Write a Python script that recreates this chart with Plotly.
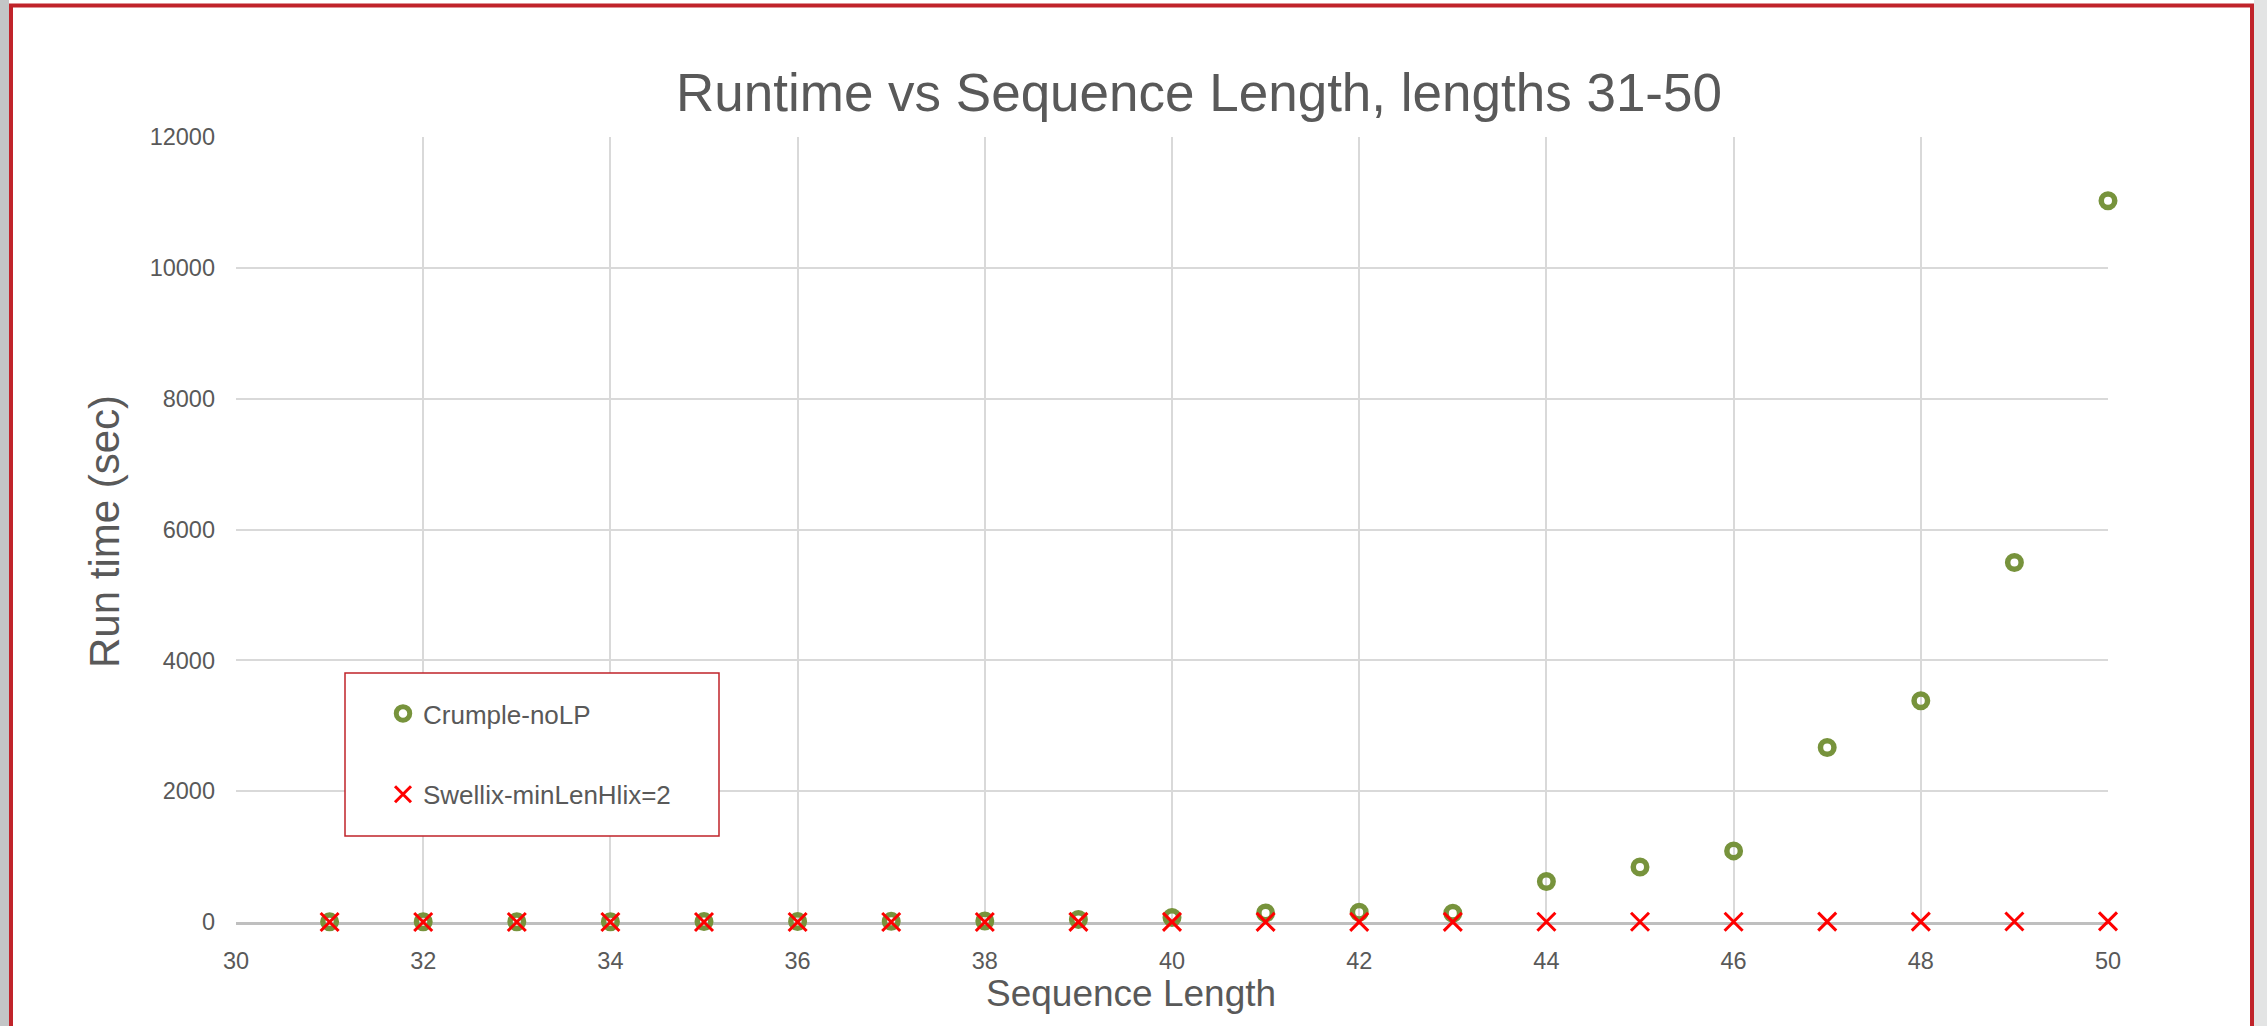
import plotly.graph_objects as go

# ---------------- data ----------------
seq_length = [31, 32, 33, 34, 35, 36, 37, 38, 39, 40,
              41, 42, 43, 44, 45, 46, 47, 48, 49, 50]
crumple_nolp = [2, 3, 4, 5, 6, 8, 10, 15, 40, 70,
                138, 148, 135, 618, 842, 1087, 2667, 3381, 5495, 11025]
swellix_minlen2 = [0.2, 0.3, 0.3, 0.4, 0.5, 0.6, 0.7, 0.9, 1.1, 1.3,
                   1.6, 2.0, 2.4, 2.9, 3.5, 4.2, 5.1, 6.1, 7.4, 8.9]
x_ticks = [30, 32, 34, 36, 38, 40, 42, 44, 46, 48, 50]
y_ticks = [0, 2000, 4000, 6000, 8000, 10000, 12000]

title_text = "Runtime vs Sequence Length, lengths 31-50"
x_title = "Sequence Length"
y_title = "Run time (sec)"
name_crumple = "Crumple-noLP"
name_swellix = "Swellix-minLenHlix=2"

# ---------------- layout geometry ----------------
W, H = 2267, 1026
L, R, T, B = 236, 2108, 137, 922

def px_x(p):
    return (p - L) / (R - L)

def px_y(p):
    return (B - p) / (B - T)

FONT = "Liberation Sans, Arial, sans-serif"
TXT = "#595959"
GREEN = "#77933C"
RED = "#FF0000"
FRAME = "#C0232A"

fig = go.Figure()
fig.add_trace(go.Scatter(
    x=seq_length, y=crumple_nolp, mode="markers", name=name_crumple,
    legendgroup="a", cliponaxis=False,
    marker=dict(symbol="circle-open", size=13.5, color=GREEN,
                line=dict(width=5.5, color=GREEN)),
))
fig.add_trace(go.Scatter(
    x=seq_length, y=swellix_minlen2, mode="markers", name=name_swellix,
    legendgroup="b", cliponaxis=False,
    marker=dict(symbol="x-thin-open", size=18, color=RED,
                line=dict(width=3, color=RED)),
))

shapes = [
    # gray strips outside the frame
    dict(type="rect", xref="paper", yref="paper", x0=px_x(-5), x1=px_x(9),
         y0=px_y(1100), y1=px_y(-10), fillcolor="#C3C5C6", line_width=0, layer="below"),
    dict(type="rect", xref="paper", yref="paper", x0=px_x(2254), x1=px_x(2280),
         y0=px_y(1100), y1=px_y(-10), fillcolor="#E3E4E4", line_width=0, layer="below"),
    # red frame
    dict(type="rect", xref="paper", yref="paper", x0=px_x(11), x1=px_x(2252),
         y0=px_y(1060), y1=px_y(5.5), line=dict(color=FRAME, width=4),
         fillcolor="rgba(0,0,0,0)", layer="below"),
    # legend box
    dict(type="rect", xref="paper", yref="paper", x0=px_x(345), x1=px_x(719),
         y0=px_y(836), y1=px_y(673), line=dict(color=FRAME, width=1.5),
         fillcolor="white", layer="above"),
]

annotations = [
    dict(text=y_title, xref="paper", yref="paper", x=px_x(104), y=px_y(532),
         xanchor="center", yanchor="middle", textangle=-90, showarrow=False,
         font=dict(family=FONT, size=42, color=TXT)),
    dict(text=x_title, xref="paper", yref="paper", x=px_x(1131), y=px_y(993),
         xanchor="center", yanchor="middle", showarrow=False,
         font=dict(family=FONT, size=37, color=TXT)),
]

fig.update_layout(
    width=W, height=H,
    margin=dict(l=L, r=W - R, t=T, b=H - B, pad=0),
    paper_bgcolor="white", plot_bgcolor="white",
    font=dict(family=FONT, color=TXT),
    title=dict(text=title_text, x=1199 / W, y=1 - 92 / H, xref="container",
               yref="container", xanchor="center", yanchor="middle",
               font=dict(family=FONT, size=53, color=TXT)),
    shapes=shapes,
    annotations=annotations,
    showlegend=True,
    legend=dict(x=px_x(383), y=px_y(690), xanchor="left", yanchor="top",
                bgcolor="rgba(0,0,0,0)", borderwidth=0,
                traceorder="grouped", tracegroupgap=44,
                font=dict(family=FONT, size=26, color=TXT)),
)

fig.update_xaxes(
    range=[30, 50], tickvals=x_ticks, ticktext=[str(v) for v in x_ticks],
    showgrid=True, gridcolor="#D9D9D9", gridwidth=2,
    showline=True, linecolor="#BFBFBF", linewidth=3,
    zeroline=False, ticks="", ticklabelstandoff=16,
    tickfont=dict(family=FONT, size=23.5, color=TXT),
    layer="below traces", automargin=False,
)
fig.update_yaxes(
    range=[0, 12000], tickvals=y_ticks, ticktext=[str(v) for v in y_ticks],
    showgrid=True, gridcolor="#D9D9D9", gridwidth=2,
    showline=False, zeroline=False, ticks="", ticklabelstandoff=20,
    tickfont=dict(family=FONT, size=23.5, color=TXT),
    layer="below traces", automargin=False,
)

fig.write_html("out.html")
